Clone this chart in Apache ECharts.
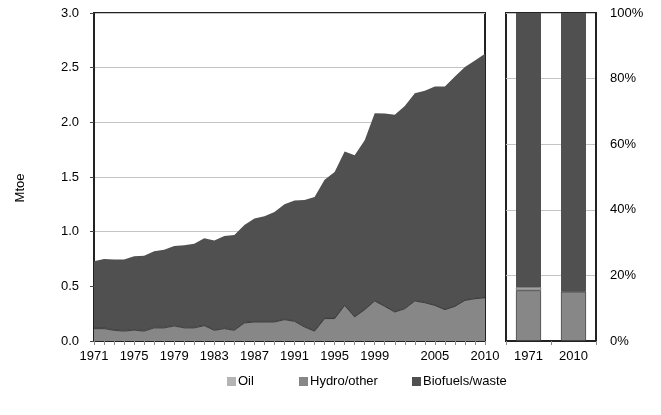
<!DOCTYPE html>
<html><head><meta charset="utf-8">
<script src="https://cdn.jsdelivr.net/npm/echarts@6/dist/echarts.min.js"></script>
<style>html,body{margin:0;padding:0;background:#fff}#c{width:661px;height:415px}</style>
</head><body><div id="c"></div>
<script>
var years = ['1971','1972','1973','1974','1975','1976','1977','1978','1979','1980',
  '1981','1982','1983','1984','1985','1986','1987','1988','1989','1990',
  '1991','1992','1993','1994','1995','1996','1997','1998','1999','2000',
  '2001','2002','2003','2004','2005','2006','2007','2008','2009','2010'];
var tickLabels = ['1971','1975','1979','1983','1987','1991','1995','1999','2005','2010'];
var hydro = [0.113,0.113,0.098,0.09,0.10,0.09,0.12,0.12,0.137,0.12,
  0.12,0.14,0.098,0.113,0.098,0.165,0.174,0.174,0.174,0.195,
  0.18,0.128,0.09,0.205,0.205,0.326,0.22,0.287,0.366,0.317,
  0.265,0.295,0.366,0.35,0.326,0.287,0.317,0.372,0.387,0.396];
var oil = [0.006,0.006,0.006,0.006,0.006,0.006,0.006,0.006,0.006,0.006,
  0.005,0.005,0.005,0.005,0.005,0.005,0.005,0.005,0.005,0.005,
  0.005,0.005,0.004,0.004,0.004,0.004,0.004,0.004,0.004,0.004,
  0.004,0.004,0.004,0.004,0.003,0.003,0.003,0.003,0.003,0.003];
var biofuels = [0.611,0.631,0.641,0.649,0.669,0.684,0.694,0.709,0.727,0.749,
  0.765,0.795,0.817,0.842,0.867,0.89,0.941,0.961,1.001,1.05,
  1.101,1.157,1.222,1.266,1.336,1.404,1.476,1.544,1.714,1.759,
  1.801,1.851,1.897,1.936,1.999,2.038,2.10,2.13,2.176,2.228];
var shareYears = ['1971','2010'];
var yTicks = [0,0.5,1.0,1.5,2.0,2.5,3.0];

var cHydro = '#878787', cOil = '#b4b4b4', cBio = '#505050';
var font = 'Liberation Sans, Arial, sans-serif';

function share(arr, i){ var t = hydro[i]+oil[i]+biofuels[i]; return arr[i]/t*100; }
var idx = shareYears.map(function(y){ return years.indexOf(y); });
var hydroShare = idx.map(function(i){ return share(hydro,i); });
var oilShare = idx.map(function(i){ return share(oil,i); });
var bioShare = idx.map(function(i){ return share(biofuels,i); });

var chart = echarts.init(document.getElementById('c'), null, {renderer:'canvas'});
var axisText = {color:'#000', fontSize:13, fontFamily:font};
chart.setOption({
  animation:false,
  textStyle:{fontFamily:font},
  grid:[
    {left:94, top:13, width:391, height:328, show:true, borderColor:'#222', borderWidth:2},
    {left:506, top:13, width:90, height:328, show:true, borderColor:'#222', borderWidth:2}
  ],
  legend:[
    {data:['Oil'], left:222, top:370, icon:'rect', itemWidth:9, itemHeight:9, itemGap:0, textStyle:{fontSize:13, color:'#000', padding:[0,0,0,-3]}},
    {data:['Hydro/other'], left:294, top:370, icon:'rect', itemWidth:9, itemHeight:9, textStyle:{fontSize:13, color:'#000', padding:[0,0,0,-3]}},
    {data:['Biofuels/waste'], left:407, top:370, icon:'rect', itemWidth:9, itemHeight:9, textStyle:{fontSize:13, color:'#000', padding:[0,0,0,-3]}}
  ],
  graphic:[{type:'text', x:20, y:188, rotation:Math.PI/2, style:{text:'Mtoe', fill:'#000', font:'13px '+font, textAlign:'center', textVerticalAlign:'middle'}}],
  xAxis:[
    {type:'category', gridIndex:0, data:years, boundaryGap:false,
     axisLine:{show:true, lineStyle:{color:'#222', width:2}},
     axisTick:{show:true, interval:0, length:4, lineStyle:{color:'#888'}},
     axisLabel:Object.assign({interval:function(i,v){return tickLabels.indexOf(v)>=0;}, margin:9}, axisText),
     splitLine:{show:false}},
    {type:'category', gridIndex:1, data:shareYears, boundaryGap:true,
     axisLine:{show:true, lineStyle:{color:'#222', width:2}},
     axisTick:{show:true, length:4, lineStyle:{color:'#888'}},
     axisLabel:Object.assign({margin:9}, axisText)}
  ],
  yAxis:[
    {type:'value', gridIndex:0, min:0, max:3, interval:0.5,
     axisLine:{show:true, lineStyle:{color:'#222', width:2}},
     axisTick:{show:true, length:4, lineStyle:{color:'#444'}},
     axisLabel:Object.assign({margin:15, formatter:function(v){return v.toFixed(1);}}, axisText),
     splitLine:{show:true, lineStyle:{color:'#c4c4c4', width:1}}},
    {type:'value', gridIndex:1, min:0, max:100, interval:20, position:'right',
     axisLine:{show:true, lineStyle:{color:'#222', width:2}},
     axisTick:{show:false},
     axisLabel:Object.assign({margin:14, formatter:'{value}%'}, axisText),
     splitLine:{show:true, lineStyle:{color:'#c4c4c4', width:1}}}
  ],
  series:[
    {name:'Hydro/other', type:'line', stack:'a', xAxisIndex:0, yAxisIndex:0, data:hydro, symbol:'none',
     itemStyle:{color:cHydro}, lineStyle:{color:'#3c3c3c', width:1}, areaStyle:{color:cHydro, opacity:1}},
    {name:'Oil', type:'line', stack:'a', xAxisIndex:0, yAxisIndex:0, data:oil, symbol:'none',
     itemStyle:{color:cOil}, lineStyle:{color:'#3c3c3c', width:0.8}, areaStyle:{color:cOil, opacity:1}},
    {name:'Biofuels/waste', type:'line', stack:'a', xAxisIndex:0, yAxisIndex:0, data:biofuels, symbol:'none',
     itemStyle:{color:cBio}, lineStyle:{width:0}, areaStyle:{color:cBio, opacity:1}},
    {name:'Hydro/other', type:'bar', stack:'b', xAxisIndex:1, yAxisIndex:1, data:hydroShare, barWidth:25,
     itemStyle:{color:cHydro, borderColor:'#3c3c3c', borderWidth:0.8}},
    {name:'Oil', type:'bar', stack:'b', xAxisIndex:1, yAxisIndex:1, data:oilShare, barWidth:25,
     itemStyle:{color:cOil, borderColor:'#3c3c3c', borderWidth:0.5}},
    {name:'Biofuels/waste', type:'bar', stack:'b', xAxisIndex:1, yAxisIndex:1, data:bioShare, barWidth:25,
     itemStyle:{color:cBio}}
  ]
});
</script></body></html>
